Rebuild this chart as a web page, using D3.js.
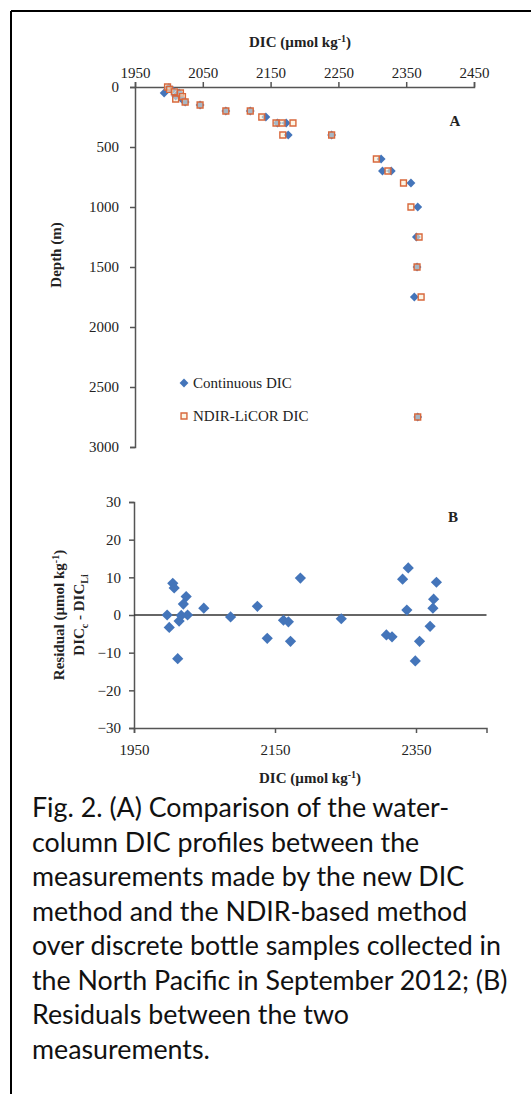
<!DOCTYPE html>
<html><head><meta charset="utf-8">
<script src="https://cdn.jsdelivr.net/npm/d3@7"></script>
<style>
html,body{margin:0;padding:0;background:#fff;}
svg{display:block;}
</style></head>
<body>
<script>
// ---- Data ----
const contDIC   = [1993,2000,2005,2010,2015,2019,2024,2046,2084,2120,2143,2160,2173,2176,2240,2313,2315,2328,2357,2367,2365,2366,2362,2367];
const contDepth = [50,5,25,75,50,100,125,150,200,200,250,300,300,400,400,600,700,700,800,1000,1250,1500,1750,2750];
const ndirDIC   = [1998,2001,2008,2010,2017,2020,2024,2046,2084,2120,2137,2158,2167,2183,2168,2240,2306,2323,2346,2357,2369,2366,2372,2367];
const ndirDepth = [0,20,40,100,50,80,125,150,200,200,250,300,300,300,400,400,600,700,800,1000,1250,1500,1750,2750];

const resDIC = [1997,2000,2005,2007,2012,2014,2017,2020,2024,2026,2049,2087,2125,2139,2162,2169,2172,2186,2244,2308,2316,2331,2339,2337,2349,2355,2370,2374,2375,2379];
const resVal = [0,-3.3,8.4,7.2,-11.6,-1.6,-0.1,2.9,4.9,0,1.8,-0.5,2.3,-6.2,-1.4,-1.8,-7.0,9.8,-1.0,-5.3,-5.8,9.5,12.5,1.3,-12.2,-7.0,-3.0,1.8,4.2,8.7];

const ticksA_x = [1950,2050,2150,2250,2350,2450];
const ticksA_y = [0,500,1000,1500,2000,2500,3000];
const ticksB_x = [1950,2150,2350];
const ticksB_y = [-30,-20,-10,0,10,20,30];

const legendLabels = ["Continuous DIC","NDIR-LiCOR DIC"];
const captionLines = [
 "Fig. 2. (A) Comparison of the water-",
 "column DIC profiles between the",
 "measurements made by the new DIC",
 "method and the NDIR-based method",
 "over discrete bottle samples collected in",
 "the North Pacific in September 2012; (B)",
 "Residuals between the two",
 "measurements."
];

// ---- Drawing ----
const W=531,H=1094;
const svg=d3.select("body").append("svg").attr("width",W).attr("height",H);
const serif="'Liberation Serif','Times New Roman',serif";
const blue="#4475BA", orange="#D8683C";

// frame
svg.append("line").attr("x1",11).attr("y1",11).attr("x2",W).attr("y2",11).attr("stroke","#000").attr("stroke-width",2);
svg.append("line").attr("x1",11).attr("y1",11).attr("x2",11).attr("y2",H).attr("stroke","#000").attr("stroke-width",2);

// Panel A
const xA=d3.scaleLinear().domain([1950,2450]).range([135,474]);
const yA=d3.scaleLinear().domain([0,3000]).range([87,447]);
const gA=svg.append("g");
const axA_x=gA.append("g").attr("transform",`translate(0,${yA(0)})`)
  .call(d3.axisTop(xA).tickValues(ticksA_x).tickSize(5).tickPadding(4).tickFormat(d3.format("d")));
const axA_y=gA.append("g").attr("transform",`translate(${xA(1950)},0)`)
  .call(d3.axisLeft(yA).tickValues(ticksA_y).tickSize(5).tickPadding(11).tickFormat(d3.format("d")));
[axA_x,axA_y].forEach(a=>{
  a.select(".domain").attr("stroke","#555").attr("stroke-width",1.5);
  a.selectAll(".tick line").attr("stroke","#555").attr("stroke-width",1.5);
  a.selectAll("text").attr("font-family",serif).attr("font-size",15).attr("fill","#222");
});
gA.append("text").attr("x",300).attr("y",47).attr("text-anchor","middle")
  .attr("font-family",serif).attr("font-weight","bold").attr("font-size",15).attr("fill","#222")
  .html('DIC (µmol kg<tspan dy="-5" font-size="10">-1</tspan><tspan dy="5">)</tspan>');
gA.append("text").attr("transform",`translate(61,255) rotate(-90)`).attr("text-anchor","middle")
  .attr("font-family",serif).attr("font-weight","bold").attr("font-size",15).attr("fill","#222").text("Depth (m)");
gA.append("text").attr("x",455).attr("y",126).attr("text-anchor","middle")
  .attr("font-family",serif).attr("font-weight","bold").attr("font-size",15).attr("fill","#222").text("A");

const diamond=d3.symbol().type(d3.symbolDiamond2);
const square=d3.symbol().type(d3.symbolSquare2);
gA.selectAll(".dA").data(contDIC).join("path")
  .attr("transform",(d,i)=>`translate(${xA(d)},${yA(contDepth[i])})`)
  .attr("d",diamond.size(50)()).attr("fill",blue);
gA.selectAll(".sA").data(ndirDIC).join("path")
  .attr("transform",(d,i)=>`translate(${xA(d)},${yA(ndirDepth[i])})`)
  .attr("d",square.size(44)()).attr("fill","rgba(250,236,205,0.55)").attr("stroke",orange).attr("stroke-width",1.4);

// legend
const lg=gA.append("g");
lg.append("path").attr("transform","translate(184,383)").attr("d",diamond.size(50)()).attr("fill",blue);
lg.append("path").attr("transform","translate(184,416)").attr("d",square.size(44)()).attr("fill","rgba(250,236,205,0.55)").attr("stroke",orange).attr("stroke-width",1.4);
lg.selectAll("text").data(legendLabels).join("text")
  .attr("x",193).attr("y",(d,i)=>388+i*33)
  .attr("font-family",serif).attr("font-size",15).attr("fill","#222").text(d=>d);

// Panel B
const xB=d3.scaleLinear().domain([1950,2450]).range([134,486.5]);
const yB=d3.scaleLinear().domain([-30,30]).range([728,502]);
const gB=svg.append("g");
const axB_y=gB.append("g").attr("transform",`translate(${xB(1950)},0)`)
  .call(d3.axisLeft(yB).tickValues(ticksB_y).tickSize(5).tickPadding(8).tickFormat(d3.format("d")));
const axB_x=gB.append("g").attr("transform",`translate(0,${yB(-30)})`)
  .call(d3.axisBottom(xB).tickValues(ticksB_x).tickSize(5).tickPadding(11).tickFormat(d3.format("d")));
[axB_x,axB_y].forEach(a=>{
  a.select(".domain").attr("stroke","#555").attr("stroke-width",1.5);
  a.selectAll(".tick line").attr("stroke","#555").attr("stroke-width",1.5);
  a.selectAll("text").attr("font-family",serif).attr("font-size",15).attr("fill","#222");
});
gB.append("line").attr("x1",xB(1950)).attr("x2",xB(2450)).attr("y1",yB(0)).attr("y2",yB(0))
  .attr("stroke","#333").attr("stroke-width",1.6);
gB.append("text").attr("x",310).attr("y",783).attr("text-anchor","middle")
  .attr("font-family",serif).attr("font-weight","bold").attr("font-size",15).attr("fill","#222")
  .html('DIC (µmol kg<tspan dy="-5" font-size="10">-1</tspan><tspan dy="5">)</tspan>');
gB.append("text").attr("transform",`translate(64,${yB(0)}) rotate(-90)`).attr("text-anchor","middle")
  .attr("font-family",serif).attr("font-weight","bold").attr("font-size",15).attr("fill","#222")
  .html('Residual (µmol kg<tspan dy="-5" font-size="10">-1</tspan><tspan dy="5">)</tspan>');
gB.append("text").attr("transform",`translate(84,${yB(0)}) rotate(-90)`).attr("text-anchor","middle")
  .attr("font-family",serif).attr("font-weight","bold").attr("font-size",15).attr("fill","#222")
  .html('DIC<tspan dy="4" font-size="10">c</tspan><tspan dy="-4"> - DIC</tspan><tspan dy="4" font-size="10">Li</tspan>');
gB.append("text").attr("x",453).attr("y",522).attr("text-anchor","middle")
  .attr("font-family",serif).attr("font-weight","bold").attr("font-size",15).attr("fill","#222").text("B");
gB.selectAll(".dB").data(resDIC).join("path")
  .attr("transform",(d,i)=>`translate(${xB(d)},${yB(resVal[i])})`)
  .attr("d",diamond.size(80)()).attr("fill",blue);

// caption
svg.append("g").selectAll("text").data(captionLines).join("text")
  .attr("x",32).attr("y",(d,i)=>817+i*34.5)
  .attr("font-family","Lato,'Open Sans',sans-serif").attr("font-size",26.8).attr("fill","#111").text(d=>d);
</script>
</body></html>
